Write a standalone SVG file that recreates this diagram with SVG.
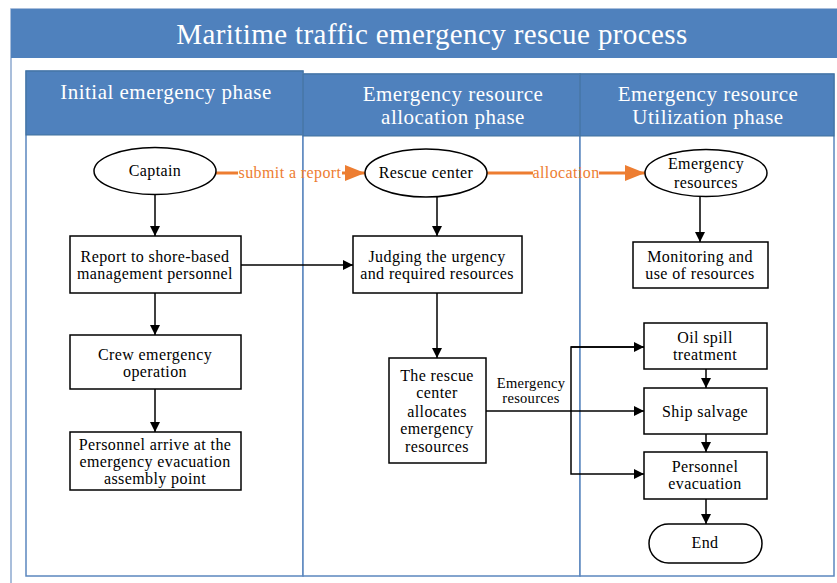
<svg xmlns="http://www.w3.org/2000/svg" width="837" height="583" viewBox="0 0 837 583" font-family="'Liberation Serif', 'DejaVu Serif', serif">
<style>
.hdr{fill:#4F81BD;stroke:#41719C;stroke-width:1}
.lane{fill:#fff;stroke:#5B87BE;stroke-width:1.5}
.ht{font-family:'Liberation Serif','DejaVu Serif',serif;fill:#fff;text-anchor:middle;font-size:21px;letter-spacing:0.5px}
.nt{font-family:'Liberation Serif','DejaVu Serif',serif;font-size:16px;letter-spacing:0.4px;fill:#000;text-anchor:middle}
.box{fill:#fff;stroke:#000;stroke-width:1.5}
.ln{fill:none;stroke:#000;stroke-width:1.5}
.or{fill:none;stroke:#ED7D31;stroke-width:3}
.ot{font-family:'Liberation Serif','DejaVu Serif',serif;font-size:16px;letter-spacing:0.4px;fill:#ED7D31;text-anchor:middle}
</style>
<defs>
<marker id="a" markerWidth="10" markerHeight="10" refX="10" refY="5" orient="auto" markerUnits="userSpaceOnUse"><path d="M0,0 L10,5 L0,10 Z" fill="#000"/></marker>
<marker id="o" markerWidth="20" markerHeight="16" refX="20" refY="8" orient="auto" markerUnits="userSpaceOnUse"><path d="M0,0 L20,8 L0,16 Z" fill="#ED7D31"/></marker>
</defs>
<rect width="837" height="583" fill="#fff"/>
<g id="frame">
<rect x="11" y="9" width="840" height="600" fill="#fff" stroke="#8DA9CF" stroke-width="1.5"/>
<rect x="11" y="9" width="830" height="49" fill="#4F81BD"/>
<text class="ht" x="432" y="44" style="font-size:29px;letter-spacing:0.4px">Maritime traffic emergency rescue process</text>
</g>
<g id="lane1">
<rect class="lane" x="26" y="71" width="277" height="505"/>
<rect class="hdr" x="26" y="71" width="277" height="64"/>
<text class="ht" x="166" y="99">Initial emergency phase</text>
</g>
<g id="lane2">
<rect class="lane" x="303" y="74" width="277" height="502"/>
<rect class="hdr" x="303" y="74" width="277" height="62"/>
<text class="ht" x="453" y="101">Emergency resource</text>
<text class="ht" x="453" y="124">allocation phase</text>
</g>
<g id="lane3">
<rect class="lane" x="580" y="74" width="254" height="502"/>
<rect class="hdr" x="580" y="74" width="254" height="62"/>
<text class="ht" x="708" y="101">Emergency resource</text>
<text class="ht" x="708" y="124">Utilization phase</text>
</g>
<g id="connectors">
<path class="ln" d="M155,194 V236" marker-end="url(#a)"/>
<path class="ln" d="M155,293 V335" marker-end="url(#a)"/>
<path class="ln" d="M155,389 V432" marker-end="url(#a)"/>
<path class="ln" d="M241,265 H353" marker-end="url(#a)"/>
<path class="ln" d="M437,197 V236" marker-end="url(#a)"/>
<path class="ln" d="M437,293 V358" marker-end="url(#a)"/>
<path class="ln" d="M700,197 V242" marker-end="url(#a)"/>
<path class="ln" d="M486,411 H644" marker-end="url(#a)"/>
<path class="ln" d="M644,347 H571 V474 H644" marker-end="url(#a)"/>
<path class="ln" d="M571,347 H644" marker-end="url(#a)"/>
<path class="ln" d="M706,369 V388" marker-end="url(#a)"/>
<path class="ln" d="M706,434 V452" marker-end="url(#a)"/>
<path class="ln" d="M706,499 V524" marker-end="url(#a)"/>
<text class="nt" x="531" y="388" style="font-size:14.5px;letter-spacing:0.3px">Emergency</text>
<text class="nt" x="531" y="403" style="font-size:14.5px;letter-spacing:0.3px">resources</text>
<path class="or" d="M216,173 H238"/>
<path class="or" d="M342,173 H365" marker-end="url(#o)"/>
<text class="ot" x="290" y="178">submit a report</text>
<path class="or" d="M487,173 H533"/>
<path class="or" d="M599,173 H645" marker-end="url(#o)"/>
<text class="ot" x="566" y="178">allocation</text>
</g>
<g id="captain">
<ellipse class="box" cx="155" cy="171" rx="61" ry="23.5"/>
<text class="nt" x="155" y="176">Captain</text>
</g>
<g id="report">
<rect class="box" x="70" y="236" width="171" height="57"/>
<text class="nt" x="155" y="262">Report to shore-based</text>
<text class="nt" x="155" y="279">management personnel</text>
</g>
<g id="crew">
<rect class="box" x="70" y="335" width="171" height="54"/>
<text class="nt" x="155" y="360">Crew emergency</text>
<text class="nt" x="155" y="377">operation</text>
</g>
<g id="assembly">
<rect class="box" x="70" y="432" width="171" height="58"/>
<text class="nt" x="155" y="450">Personnel arrive at the</text>
<text class="nt" x="155" y="467">emergency evacuation</text>
<text class="nt" x="155" y="484">assembly point</text>
</g>
<g id="rescue">
<ellipse class="box" cx="426" cy="173" rx="61" ry="24"/>
<text class="nt" x="426" y="178">Rescue center</text>
</g>
<g id="judging">
<rect class="box" x="353" y="236" width="169" height="57"/>
<text class="nt" x="437" y="262">Judging the urgency</text>
<text class="nt" x="437" y="279">and required resources</text>
</g>
<g id="allocates">
<rect class="box" x="389" y="358" width="97" height="105"/>
<text class="nt" x="437" y="381">The rescue</text>
<text class="nt" x="437" y="398">center</text>
<text class="nt" x="437" y="417">allocates</text>
<text class="nt" x="437" y="434">emergency</text>
<text class="nt" x="437" y="452">resources</text>
</g>
<g id="resources">
<ellipse class="box" cx="706" cy="173" rx="61" ry="23.5"/>
<text class="nt" x="706" y="169">Emergency</text>
<text class="nt" x="706" y="188">resources</text>
</g>
<g id="monitoring">
<rect class="box" x="633" y="242" width="135" height="46"/>
<text class="nt" x="700" y="262">Monitoring and</text>
<text class="nt" x="700" y="279">use of resources</text>
</g>
<g id="oil">
<rect class="box" x="644" y="323" width="123" height="46"/>
<text class="nt" x="705" y="343">Oil spill</text>
<text class="nt" x="705" y="360">treatment</text>
</g>
<g id="salvage">
<rect class="box" x="644" y="388" width="123" height="46"/>
<text class="nt" x="705" y="417">Ship salvage</text>
</g>
<g id="evacuation">
<rect class="box" x="644" y="452" width="123" height="47"/>
<text class="nt" x="705" y="472">Personnel</text>
<text class="nt" x="705" y="489">evacuation</text>
</g>
<g id="end">
<rect class="box" x="649" y="524" width="113" height="39" rx="19.5"/>
<text class="nt" x="705" y="548">End</text>
</g>
</svg>
